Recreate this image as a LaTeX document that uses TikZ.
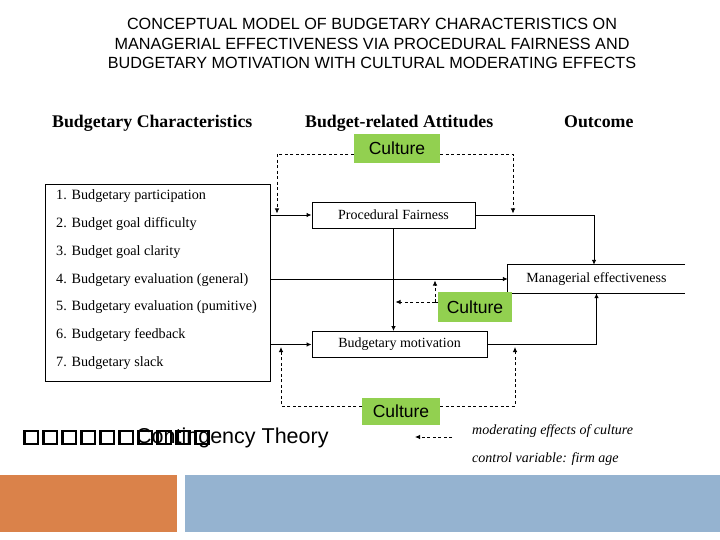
\documentclass[tikz,border=0pt]{standalone}
\usepackage{fontspec}
\setmainfont{Liberation Serif}
\newfontfamily\arialf{Liberation Sans}
\usetikzlibrary{arrows.meta}
\definecolor{cgreen}{RGB}{146,208,80}
\definecolor{corange}{RGB}{218,130,74}
\definecolor{cblue}{RGB}{149,179,208}
\tikzset{
  ttl/.style={font=\arialf\fontsize{16.2}{18}\selectfont, anchor=base, inner sep=0},
  hdr/.style={font=\bfseries\fontsize{17.8}{20}\selectfont, anchor=base west, inner sep=0},
  item/.style={font=\fontsize{14.2}{16}\selectfont, anchor=base west, inner sep=0},
  box/.style={draw, line width=0.9pt, font=\fontsize{14}{16}\selectfont, inner sep=0},
  culture/.style={fill=cgreen, font=\arialf\fontsize{17.5}{19}\selectfont, inner sep=0},
  arr/.style={line width=0.9pt, -{Latex[length=5pt,width=4.5pt]}},
  darr/.style={line width=0.8pt, dash pattern=on 3pt off 2.5pt, -{Latex[length=5pt,width=4.5pt]}},
  dln/.style={line width=0.8pt, dash pattern=on 3pt off 2.5pt},
  legtxt/.style={font=\itshape\fontsize{14}{16}\selectfont, anchor=base west, inner sep=0},
}
\begin{document}
\begin{tikzpicture}[x=1pt,y=-1pt]
\useasboundingbox (0,0) rectangle (720,540);
% title
\node[ttl] (t1) at (372,30) {CONCEPTUAL MODEL OF BUDGETARY CHARACTERISTICS ON};
\node[ttl] (t2) at (372,50) {MANAGERIAL EFFECTIVENESS VIA PROCEDURAL FAIRNESS AND};
\node[ttl] (t3) at (372,69) {BUDGETARY MOTIVATION WITH CULTURAL MODERATING EFFECTS};
% headers
\node[hdr] (h1) at (52,128) {Budgetary Characteristics};
\node[hdr] (h2) at (305,128) {Budget-related Attitudes};
\node[hdr] (h3) at (564,128) {Outcome};
% list box
\node[draw, line width=0.9pt, minimum width=225, minimum height=197, anchor=north west, inner sep=0] (list) at (45,184) {};
\node[item] (i1) at (56,200) {1. Budgetary participation};
\node[item] (i2) at (56,227) {2. Budget goal difficulty};
\node[item] (i3) at (56,255) {3. Budget goal clarity};
\node[item] (i4) at (56,283) {4. Budgetary evaluation (general)};
\node[item] (i5) at (56,310) {5. Budgetary evaluation (pumitive)};
\node[item] (i6) at (56,338) {6. Budgetary feedback};
\node[item] (i7) at (56,366) {7. Budgetary slack};
% main boxes
\node[box, minimum width=163, minimum height=26] (pf) at (393.5,215) {Procedural Fairness};
\node[box, minimum width=175, minimum height=26] (bm) at (399.5,344.5) {Budgetary motivation};
\node[font=\fontsize{14}{16}\selectfont, minimum width=177, minimum height=28, inner sep=0] (me) at (596.5,279) {Managerial effectiveness};
\draw[line width=0.9pt] (me.north east) -- (me.north west) -- (me.south west) -- (me.south east);
% solid connectors
\draw[arr] (list.east |- pf.west) -- (pf.west);
\draw[arr] (list.east |- me.west) -- (me.west);
\draw[arr] (list.east |- bm.west) -- (bm.west);
\draw[arr] (pf.east) -| ([xshift=-2.5pt]me.north);
\draw[arr] (bm.east) -| (me.south);
\draw[arr] (pf.south) -- (pf.south |- bm.north);
% culture boxes
\node[culture, minimum width=86, minimum height=29] (c1) at (397,148.5) {Culture};
\node[culture, minimum width=74, minimum height=30] (c2) at (475,307) {Culture};
\node[culture, minimum width=78, minimum height=27] (c3) at (401,411.5) {Culture};
% top dashed
\coordinate (tl) at (277,154);
\coordinate (tr) at (513,154);
\draw[darr, shorten >=1.5pt] (c1.west |- tl) -- (tl) -- (tl |- pf.west);
\draw[darr, shorten >=1.5pt] (c1.east |- tr) -- (tr) -- (tr |- pf.east);
% middle dashed
\coordinate (cm) at (435,302);
\draw[dln] (c2.west |- cm) -- (cm);
\draw[darr] (cm) -- ([xshift=2pt]pf.south |- cm);
\draw[darr, shorten >=1.5pt] (cm) -- (cm |- me.west);
% bottom dashed
\coordinate (bl) at (281,406);
\coordinate (br) at (515,406);
\draw[darr, shorten >=2.5pt] (c3.west |- bl) -- (bl) -- (bl |- bm.west);
\draw[darr, shorten >=2.5pt] (c3.east |- br) -- (br) -- (br |- bm.east);
% legend
\coordinate (lg1) at (452,437);
\coordinate (lg2) at (415,437);
\draw[darr] (lg1) -- (lg2);
\node[legtxt] (lt1) at (472,434) {moderating effects of culture};
\node[legtxt] (lt2) at (472,462) {control variable: firm age};
% contingency theory
\node[font=\arialf\fontsize{21.5}{23}\selectfont, anchor=base west, inner sep=0] (ct) at (136,443) {Contingency Theory};
\foreach \i in {0,...,9} {
  \draw[line width=2.6pt] (24.5+19*\i,431) rectangle +(13.5,13);
}
% bottom bars
\fill[corange] (0,475) rectangle (177,532);
\fill[cblue] (185,475) rectangle (720,532);
\end{tikzpicture}
\end{document}
